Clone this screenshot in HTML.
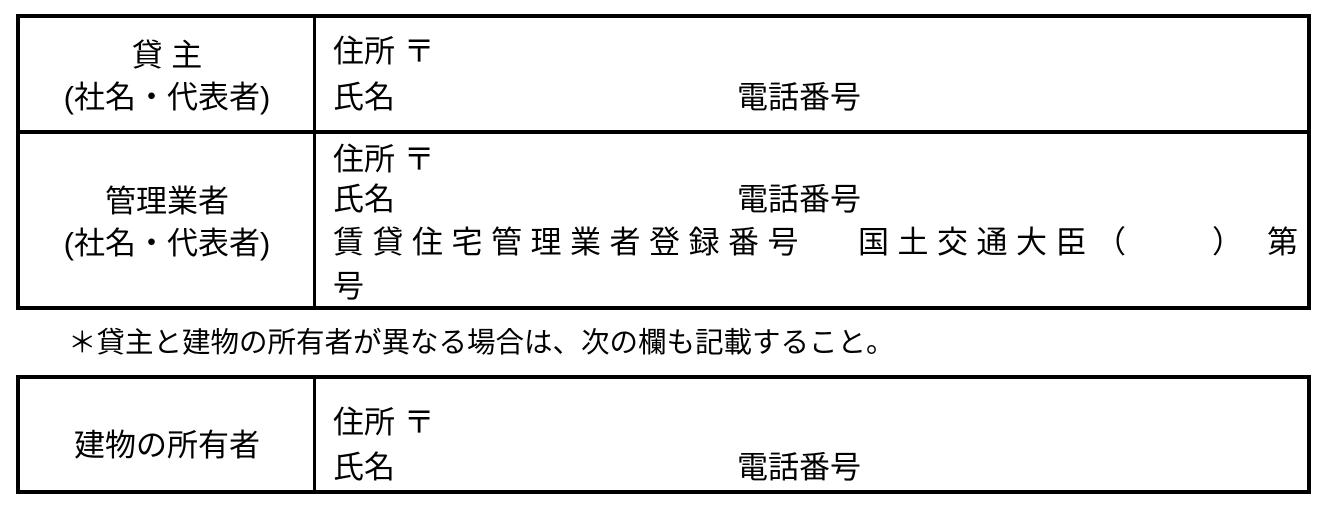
<!DOCTYPE html>
<html><head><meta charset="utf-8"><style>
body{margin:0;width:1326px;height:510px;background:#fff;position:relative;overflow:hidden;font-family:"Liberation Sans","Noto Sans CJK JP",sans-serif;color:#000}
.l{position:absolute;background:#000}
.t{position:absolute;font-size:31px;line-height:34px;white-space:nowrap}
.c{position:absolute;left:20px;width:294px;text-align:center;font-size:31px;line-height:42px;white-space:nowrap}
.sp{letter-spacing:8.5px}
</style></head><body>
<div class="l" style="left:16px;top:14px;width:1295px;height:4px"></div>
<div class="l" style="left:16px;top:130px;width:1295px;height:4px"></div>
<div class="l" style="left:16px;top:306px;width:1295px;height:4px"></div>
<div class="l" style="left:16px;top:14px;width:4px;height:296px"></div>
<div class="l" style="left:1307px;top:14px;width:4px;height:296px"></div>
<div class="l" style="left:313px;top:14px;width:3px;height:296px"></div>
<div class="l" style="left:16px;top:375px;width:1295px;height:4px"></div>
<div class="l" style="left:16px;top:490px;width:1295px;height:4px"></div>
<div class="l" style="left:16px;top:375px;width:4px;height:119px"></div>
<div class="l" style="left:1307px;top:375px;width:4px;height:119px"></div>
<div class="l" style="left:313px;top:375px;width:3px;height:119px"></div>

<div class="c" style="top:35px">貸 主<br>(社名・代表者)</div>
<div class="c" style="top:181px">管理業者<br>(社名・代表者)</div>
<div class="c" style="top:425px">建物の所有者</div>

<div class="t" style="left:333px;top:35px">住所 〒</div>
<div class="t" style="left:333px;top:81px">氏名</div>
<div class="t" style="left:737px;top:81px">電話番号</div>

<div class="t" style="left:333px;top:143px">住所 〒</div>
<div class="t" style="left:333px;top:183px">氏名</div>
<div class="t" style="left:737px;top:183px">電話番号</div>
<div class="t sp" style="left:333px;top:226px">賃貸住宅管理業者登録番号</div>
<div class="t sp" style="left:858px;top:226px">国土交通大臣（</div>
<div class="t" style="left:1212px;top:226px">）</div>
<div class="t" style="left:1267px;top:226px">第</div>
<div class="t" style="left:333px;top:270px">号</div>

<div class="t" style="left:68px;top:326px;font-size:28.5px">＊貸主と建物の所有者が異なる場合は、次の欄も記載すること。</div>

<div class="t" style="left:333px;top:406px">住所 〒</div>
<div class="t" style="left:333px;top:451px">氏名</div>
<div class="t" style="left:737px;top:451px">電話番号</div>
</body></html>
